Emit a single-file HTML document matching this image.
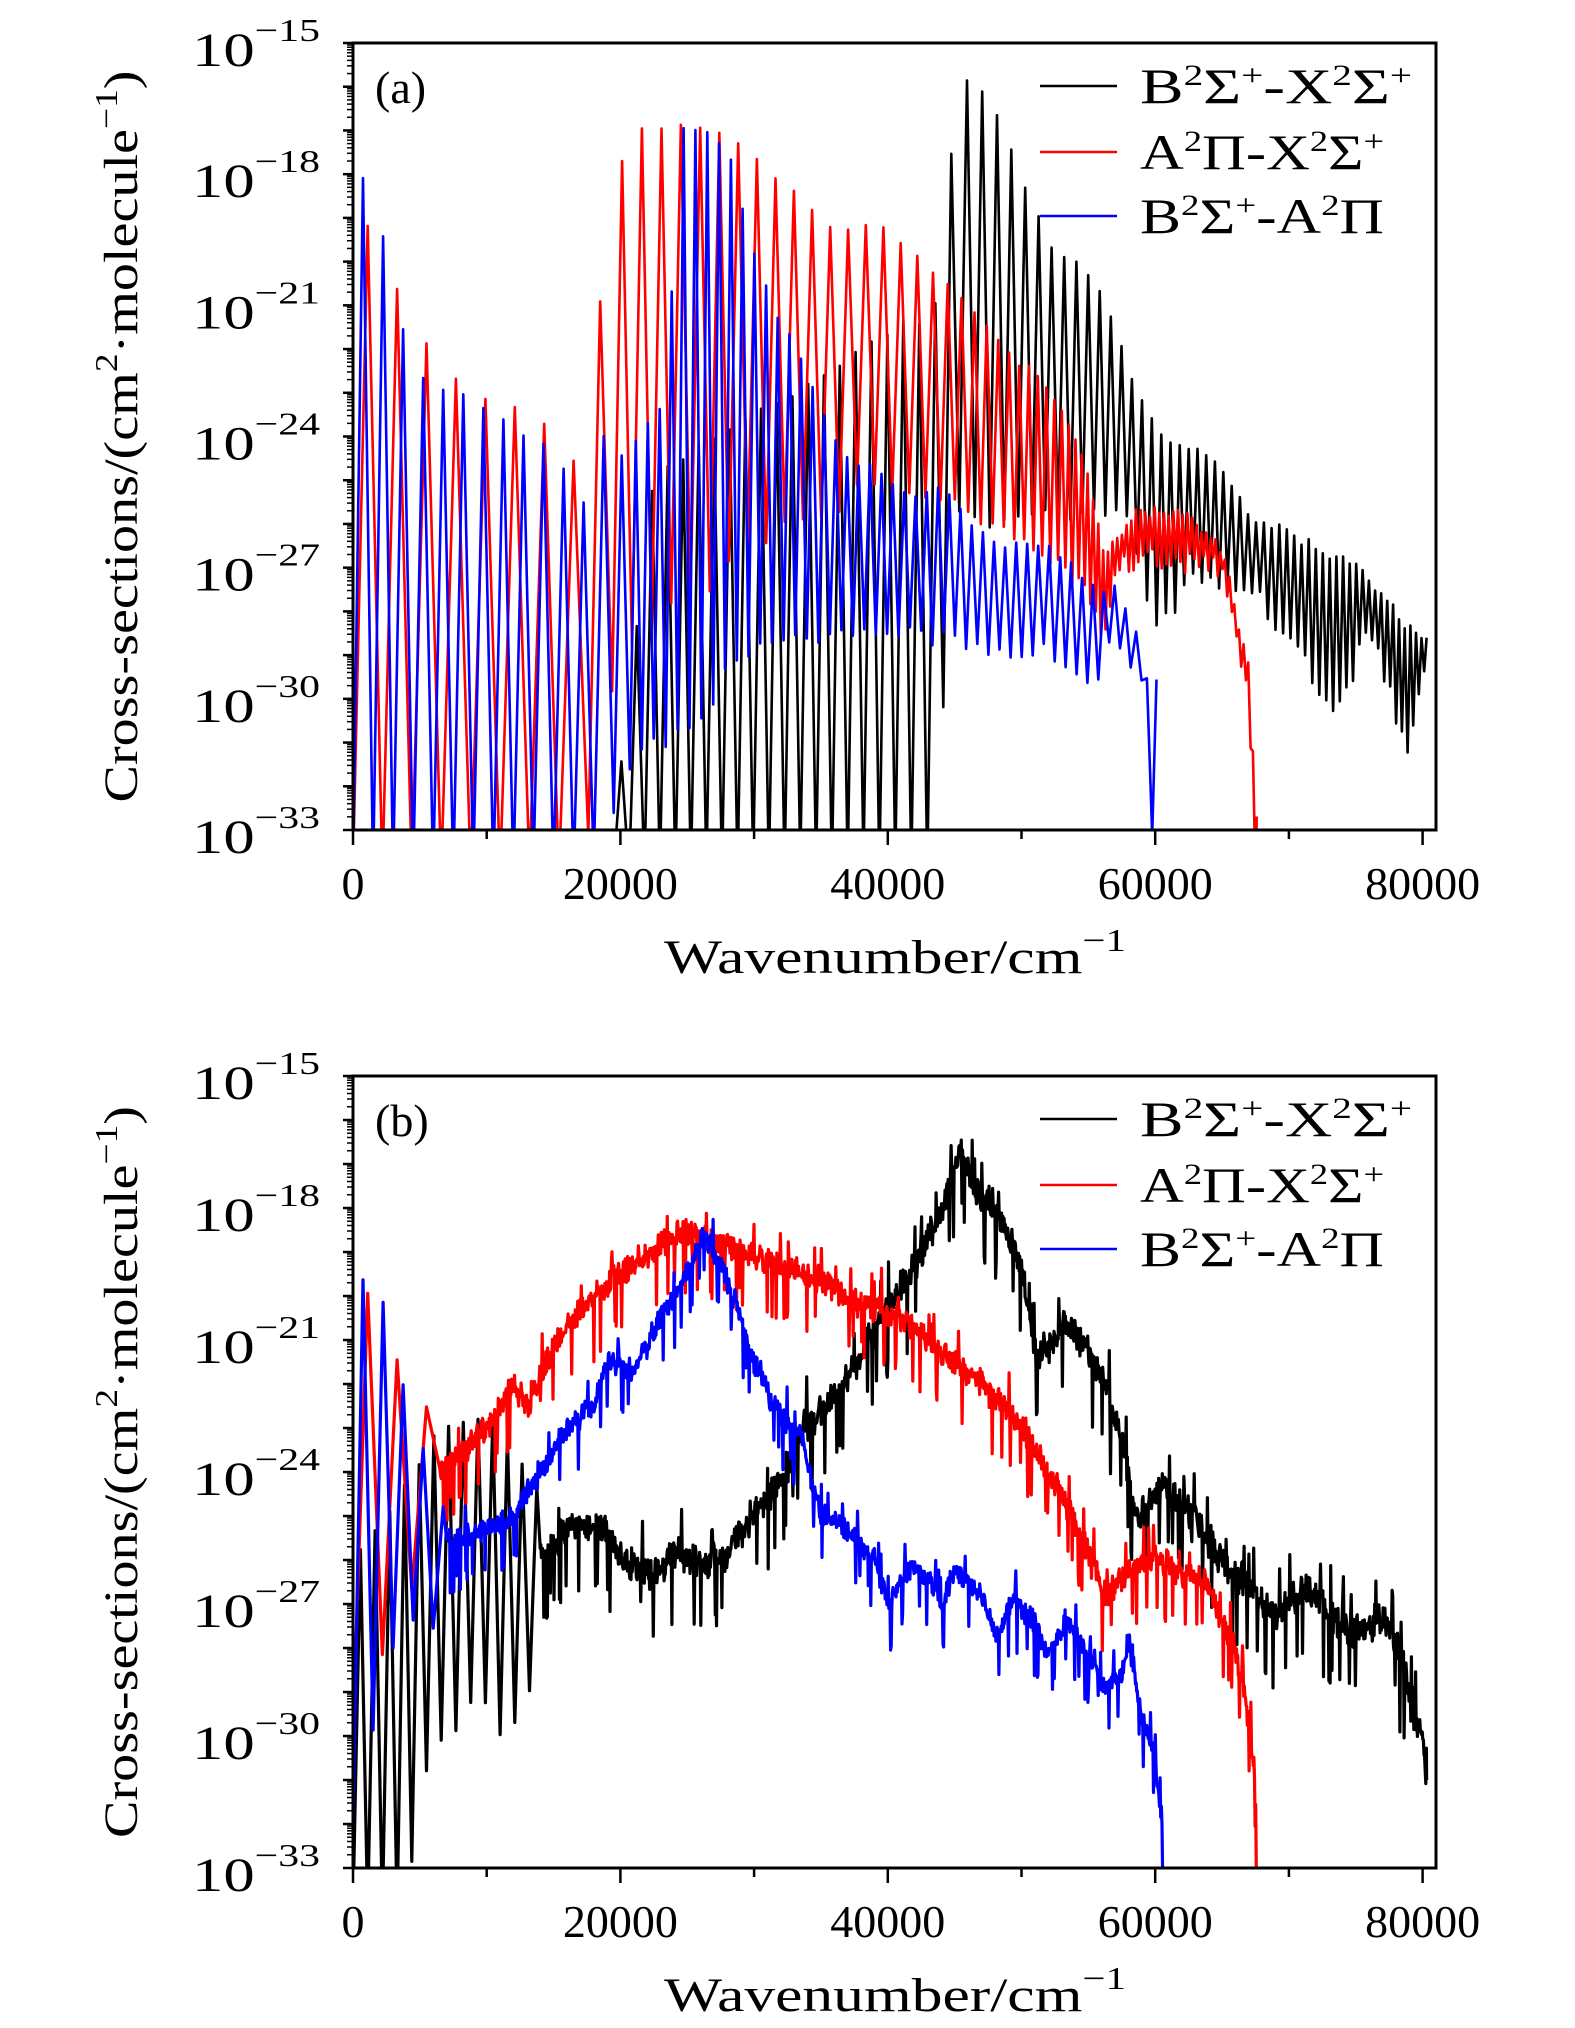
<!DOCTYPE html>
<html><head><meta charset="utf-8"><style>
html,body{margin:0;padding:0;background:#fff;}
svg{display:block;font-family:"Liberation Serif","DejaVu Serif",serif;}
</style></head><body>
<svg id="fig" width="1575" height="2028" viewBox="0 0 1575 2028" xmlns="http://www.w3.org/2000/svg"></svg>
<script>
// ---------- DATA ----------
const xTicks = [0, 20000, 40000, 60000, 80000];
const yTickExps = [-15, -18, -21, -24, -27, -30, -33];
const seriesNames = ["B²Σ⁺-X²Σ⁺", "A²Π-X²Σ⁺", "B²Σ⁺-A²Π"];
const seriesColors = ["#000000", "#ff0000", "#0000ff"];

// Panel (a): banded spectra. envelopes in log10(cross-section)
const aBlackPeakX = [19500, 22500, 26200, 30000, 36000, 41200, 43400, 44500, 45500, 46600, 47900, 50200, 52400, 54300, 55400, 56500, 58000, 60700, 63300, 65200, 67000, 70400, 75600, 78700, 80300];
const aBlackPeakY = [-33, -24.9, -24.2, -23.5, -22.5, -21.3, -21.3, -18, -15.7, -16.0, -16.5, -18.3, -19.8, -19.9, -20.4, -21, -22.6, -24.1, -24.3, -24.8, -25.8, -26.3, -27.1, -28.3, -28.6];
const aBlackTroughX = [19500, 43800, 44500, 50000, 58000, 60000, 63000, 67000, 70000, 73600, 76000, 79000, 80300];
const aBlackTroughY = [-34, -34, -26, -25.7, -25.9, -28.6, -27.1, -27.4, -28.7, -30.3, -28.4, -31.3, -29];
const aBlackSpX = [19500, 44000, 60000, 80300];
const aBlackSp = [1150, 1200, 700, 400];

const aRedPeakX = [0, 2200, 4500, 6500, 8700, 10700, 12700, 15000, 16800, 18100, 20200, 21700, 25100, 27700, 30700, 33700, 36000, 39000, 41200, 43400, 45700, 47600, 49400, 51700, 53200, 54700, 56200, 58400, 60700, 62900, 65200, 66300, 67100, 67500];
const aRedPeakY = [-18.2, -20.2, -21.1, -22.6, -22.8, -23.3, -23.5, -23.8, -24.7, -21.7, -17.6, -16.9, -16.9, -17.1, -17.8, -18.5, -19.2, -19.1, -19.7, -20.3, -20.9, -21.4, -22.2, -22.8, -23.5, -24.5, -26.7, -25.8, -25.7, -25.9, -26.7, -28.4, -29.3, -32.8];
const aRedTroughX = [0, 17000, 20000, 30000, 40000, 45000, 50000, 55000, 56200, 57000, 60000, 65000, 66000, 67000, 67500];
const aRedTroughY = [-34, -34, -29, -26.5, -25, -25.5, -26.5, -27.5, -28.5, -27, -26.8, -27, -28.6, -30, -34];
const aRedSpX = [0, 17000, 18000, 40000, 56000, 67500];
const aRedSp = [2200, 2200, 1500, 1300, 350, 350];

const aBluePeakX = [0, 1650, 3100, 4500, 6100, 7500, 9000, 10500, 12700, 14200, 15700, 17200, 18700, 20200, 23200, 24700, 26200, 28100, 29600, 31500, 33000, 34500, 36700, 39000, 41900, 44200, 46400, 48700, 51700, 53200, 54700, 56900, 58400, 59500, 60000];
const aBluePeakY = [-17.7, -18.6, -20.6, -22.6, -22.8, -23, -23.3, -23.4, -24, -24.2, -24.7, -25.5, -24, -24.5, -23.3, -16.9, -16.85, -17.4, -19.5, -21.2, -21.9, -22.9, -24.4, -24.8, -25.4, -25.1, -26.1, -26.5, -26.4, -26.8, -27.4, -27.5, -28.2, -29.6, -29.6];
const aBlueTroughX = [0, 19000, 20000, 25000, 30000, 40000, 45000, 50000, 53000, 55500, 57000, 59000, 60000];
const aBlueTroughY = [-34, -34, -31.5, -30.8, -28.6, -28.6, -28.6, -28.9, -29, -30, -28.5, -29.5, -34];
const aBlueSpX = [0, 19000, 20000, 60000];
const aBlueSp = [1500, 1500, 900, 800];

// Panel (b): smoothed spectra. low-x banded parts + continuous curves
const bBlackBandPeakX = [0, 2500, 4500, 6700, 9000, 11200, 13100, 14000];
const bBlackBandPeakY = [-26, -25, -24, -23, -22.8, -23, -24, -24.5];
const bBlackBandTroughX = [0, 4000, 5000, 7000, 9000, 11000, 13000, 14000];
const bBlackBandTroughY = [-34, -34, -31, -30, -29, -30, -29.5, -28];
const bBlackX = [14000, 16000, 18700, 20000, 22500, 24000, 26200, 28000, 30000, 32000, 33700, 35500, 37500, 39700, 41200, 42700, 44200, 45500, 46500, 47500, 49000, 49800, 50500, 51000, 52000, 53200, 55000, 56200, 57500, 58800, 59500, 60700, 63000, 65000, 67400, 68900, 71100, 72500, 74000, 75500, 77100, 78500, 79400, 80000, 80300];
const bBlackY = [-26, -25.3, -25.2, -26, -26.4, -25.8, -26.1, -25.9, -24.9, -24.2, -23, -22.5, -21.6, -20.4, -19.7, -18.9, -17.9, -16.6, -17.7, -17.8, -18.6, -19.1, -20.2, -21.3, -21.2, -20.6, -21.3, -22, -23.2, -25.2, -24.6, -24.3, -25.1, -26, -26.7, -27.3, -26.6, -27, -27.6, -27.5, -27.3, -28.3, -29.7, -30, -31];

const bRedBandPeakX = [0, 2300, 4500, 6500];
const bRedBandPeakY = [-19, -21, -22, -23];
const bRedBandTroughX = [0, 2800, 4000, 6500];
const bRedBandTroughY = [-30, -27.5, -27, -25];
const bRedX = [6500, 8000, 10000, 12000, 13000, 15000, 17000, 20000, 23000, 25000, 27000, 30000, 33000, 36000, 38000, 41000, 44000, 47000, 50000, 53000, 55000, 56200, 58000, 60000, 62000, 63700, 65000, 66000, 67000, 67500, 67600];
const bRedY = [-24, -23.6, -23, -22, -22.5, -21.2, -20.3, -19.5, -18.8, -18.5, -18.8, -19.1, -19.4, -19.8, -20.2, -20.5, -21.3, -22, -23, -24.5, -25.8, -26.8, -26.3, -25.9, -26.3, -26.5, -27.4, -28, -29.6, -31, -34];

const bBlueBandPeakX = [0, 1500, 3000, 4500, 6000, 7000];
const bBlueBandPeakY = [-20, -19.3, -21, -23, -24, -25];
const bBlueBandTroughX = [0, 2000, 4000, 6000, 7000];
const bBlueBandTroughY = [-32, -29, -27, -27.5, -26];
const bBlueX = [7000, 8000, 10000, 12000, 14000, 16000, 18000, 19000, 21000, 23000, 25000, 26200, 27500, 29000, 30000, 31500, 33500, 35000, 37000, 39000, 40000, 41500, 43000, 44000, 45000, 47000, 48000, 49500, 51000, 52000, 53300, 55500, 56000, 57500, 58000, 59000, 60000, 60500, 60600];
const bBlueY = [-25.5, -25.5, -25.3, -25, -24, -23, -22.5, -21.5, -21.7, -20.5, -19.5, -18.6, -19.3, -20.5, -21.5, -22.5, -23.2, -25, -25.3, -26, -27, -26.2, -26.4, -27, -26.2, -26.8, -27.7, -26.9, -27.5, -28.1, -27.4, -28.3, -29, -28.6, -27.8, -29.5, -30.5, -32, -34];

// ---------- GEOMETRY ----------
const NS = "http://www.w3.org/2000/svg";
const svg = document.getElementById("fig");
const L = 353, R = 1436, X0 = 353, XPER = 13.37 / 1000;
const panels = [{top: 43, bottom: 830, label: "(a)"}, {top: 1076, bottom: 1868, label: "(b)"}];

function mk(tag, attrs, parent) {
  const e = document.createElementNS(NS, tag);
  for (const k in attrs) e.setAttribute(k, attrs[k]);
  (parent || svg).appendChild(e);
  return e;
}
function interp(xs, ys, x) {
  if (x <= xs[0]) return ys[0];
  for (let i = 1; i < xs.length; i++) if (x <= xs[i]) {
    const t = (x - xs[i-1]) / (xs[i] - xs[i-1]); return ys[i-1] + t * (ys[i] - ys[i-1]);
  }
  return ys[ys.length - 1];
}
// deterministic texture for noisy spectra
function tex(i) { const s = Math.sin(i * 12.9898 + 78.233) * 43758.5453; return s - Math.floor(s) - 0.5; }

function banded(px, py, tx, ty, sx, sp, x0, x1) {
  const pts = []; let x = x0, k = 0;
  while (x < x1) {
    const s = interp(sx, sp, x);
    pts.push([x, interp(tx, ty, x) + 0.5 * tex(k * 3 + 1)]);
    const xp = Math.min(x + s * 0.5, x1);
    pts.push([xp, interp(px, py, xp) + 0.25 * tex(k * 7 + 2)]);
    x += s; k++;
  }
  return pts;
}
function curve(xs, ys, step, amp) {
  const pts = []; let k = 0;
  for (let x = xs[0]; x <= xs[xs.length - 1]; x += step, k++) {
    let n = amp * (tex(k + xs[0]) + 0.6 * tex(k * 3 + 11));
    if (tex(k * 5 + 7) > 0.43) n -= amp * 2.5;
    if (tex(k * 13 + 3) > 0.46) n += amp * 1.5;
    pts.push([x, interp(xs, ys, x) + n]);
  }
  pts.push([xs[xs.length - 1], ys[ys.length - 1]]);
  return pts;
}

panels.forEach((p, pi) => {
  const ppd = (p.bottom - p.top) / 18;
  const xs = v => X0 + v * XPER;
  const ys = lg => p.top + (-15 - lg) * ppd;
  const g = mk("g", {});
  
  
  const cid = "clip" + pi;
  const cp = mk("clipPath", {id: cid}, g);
  mk("rect", {x: L, y: p.top, width: R - L, height: p.bottom - p.top}, cp);

  let sets;
  if (pi === 0) {
    sets = [
      banded(aBlackPeakX, aBlackPeakY, aBlackTroughX, aBlackTroughY, aBlackSpX, aBlackSp, 19500, 80300),
      banded(aRedPeakX, aRedPeakY, aRedTroughX, aRedTroughY, aRedSpX, aRedSp, 0, 67600),
      banded(aBluePeakX, aBluePeakY, aBlueTroughX, aBlueTroughY, aBlueSpX, aBlueSp, 0, 60100)
    ];
  } else {
    sets = [
      banded(bBlackBandPeakX, bBlackBandPeakY, bBlackBandTroughX, bBlackBandTroughY, [0, 14000], [1100, 1100], 0, 14000).concat(curve(bBlackX, bBlackY, 45, 0.55)),
      banded(bRedBandPeakX, bRedBandPeakY, bRedBandTroughX, bRedBandTroughY, [0, 6500], [2200, 2200], 0, 6500).concat(curve(bRedX, bRedY, 45, 0.45)),
      banded(bBlueBandPeakX, bBlueBandPeakY, bBlueBandTroughX, bBlueBandTroughY, [0, 7000], [1500, 1500], 0, 7000).concat(curve(bBlueX, bBlueY, 45, 0.4))
    ];
  }
  sets.forEach((pts, si) => {
    const d = pts.map((q, i) => (i ? "L" : "M") + xs(q[0]).toFixed(1) + " " + ys(Math.max(q[1], -34)).toFixed(1)).join("");
    const path = mk("path", {d: d, fill: "none", stroke: seriesColors[si], "stroke-width": pi === 0 ? 2.6 : 3.2, "stroke-linejoin": "round", "clip-path": "url(#" + cid + ")"}, g);
    
    
  });

  const frame = mk("rect", {x: L, y: p.top, width: R - L, height: p.bottom - p.top, fill: "none", stroke: "#000", "stroke-width": 3}, g);
  
  

  for (let e = -15; e >= -33; e--) {
    const y = ys(e);
    const t = mk("line", {x1: L - 10, x2: L, y1: y, y2: y, stroke: "#000", "stroke-width": 2.5}, g);
    
    
    if (e > -33) for (let m = 2; m <= 9; m++) {
      const ym = ys(e - 1 + Math.log10(m));
      const mt = mk("line", {x1: L - 6, x2: L, y1: ym, y2: ym, stroke: "#000", "stroke-width": 1.5}, g);
      
      
    }
  }
  yTickExps.forEach(e => {
    const y = ys(e);
    const tx = mk("text", {x: 192, y: y + 23, "font-size": 48, textLength: 128, lengthAdjust: "spacingAndGlyphs"}, g);
    tx.innerHTML = '10<tspan dy="-25" font-size="32">\u2212' + (-e) + '</tspan>';
    
    
  });
  for (let v = 0; v <= 80000; v += 10000) {
    const x = xs(v);
    const t = mk("line", {x1: x, x2: x, y1: p.bottom, y2: p.bottom + (v % 20000 ? 9 : 15), stroke: "#000", "stroke-width": 2.5}, g);
    
    
  }
  xTicks.forEach(v => {
    const tx = mk("text", {x: xs(v), y: p.bottom + 69, "text-anchor": "middle", "font-size": 46}, g);
    tx.textContent = String(v);
    
    
  });
  const xt = mk("text", {x: 664, y: p.bottom + 143, "font-size": 48, textLength: 462, lengthAdjust: "spacingAndGlyphs"}, g);
  
  
  xt.innerHTML = 'Wavenumber/cm<tspan dy="-22" font-size="32">\u22121</tspan>';
  const cy = (p.top + p.bottom) / 2;
  const yt = mk("text", {x: -366, y: 0, "font-size": 48, textLength: 732, lengthAdjust: "spacingAndGlyphs", transform: "translate(137," + cy + ") rotate(-90)"}, g);
  
  
  yt.innerHTML = 'Cross-sections/(cm<tspan dy="-20" font-size="32">2</tspan><tspan dy="20">\u00b7molecule</tspan><tspan dy="-20" font-size="32">\u22121</tspan><tspan dy="20">)</tspan>';
  const pl = mk("text", {x: 375, y: p.top + 60, "font-size": 46}, g);
  pl.textContent = p.label;
  
  
  const legY = [p.top + 43, p.top + 109, p.top + 173];
  const legLen = [272, 244, 244];
  const legHtml = [
    'B<tspan dy="-18" font-size="30">2</tspan><tspan dy="18">Σ</tspan><tspan dy="-18" font-size="30">+</tspan><tspan dy="18">-X</tspan><tspan dy="-18" font-size="30">2</tspan><tspan dy="18">Σ</tspan><tspan dy="-18" font-size="30">+</tspan>',
    'A<tspan dy="-18" font-size="30">2</tspan><tspan dy="18">Π-X</tspan><tspan dy="-18" font-size="30">2</tspan><tspan dy="18">Σ</tspan><tspan dy="-18" font-size="30">+</tspan>',
    'B<tspan dy="-18" font-size="30">2</tspan><tspan dy="18">Σ</tspan><tspan dy="-18" font-size="30">+</tspan><tspan dy="18">-A</tspan><tspan dy="-18" font-size="30">2</tspan><tspan dy="18">Π</tspan>'
  ];
  seriesNames.forEach((n, i) => {
    const lg = mk("g", {}, g);
    
    
    mk("line", {x1: 1040, x2: 1117, y1: legY[i], y2: legY[i], stroke: seriesColors[i], "stroke-width": 2.5}, lg);
    const t = mk("text", {x: 1140, y: legY[i] + 17, "font-size": 50, textLength: legLen[i], lengthAdjust: "spacingAndGlyphs"}, lg);
    t.innerHTML = legHtml[i];
  });
});
</script>
</body></html>
